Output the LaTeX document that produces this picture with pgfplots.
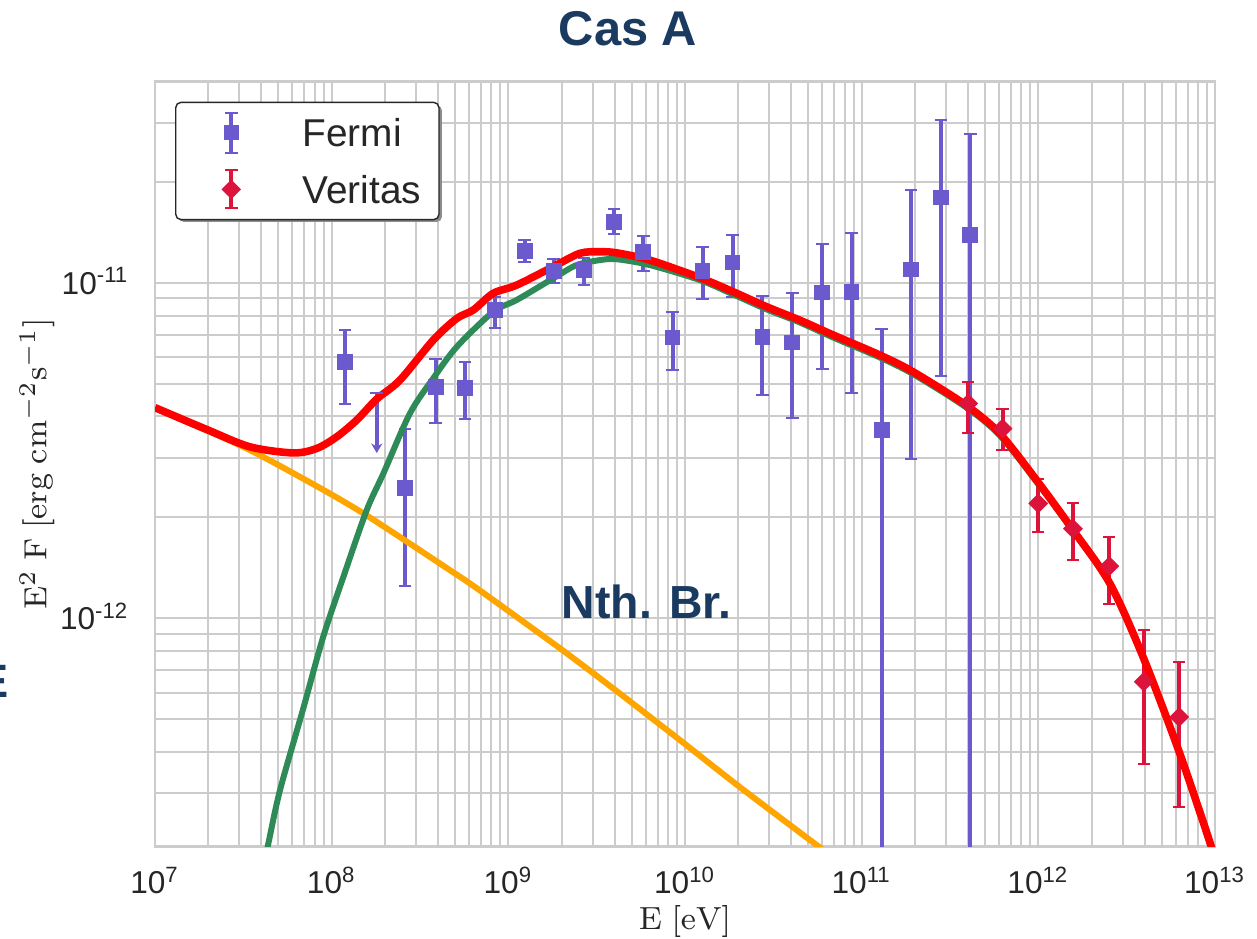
\documentclass[border=0pt]{standalone}
\usepackage[no-math]{fontspec}
\setmainfont{Liberation Sans}
\usepackage{pgfplots}
\usepackage{pgfplotstable}
\pgfplotsset{compat=1.18}
\usetikzlibrary{arrows.meta}

\definecolor{fermi}{HTML}{6A5ACD}
\definecolor{veritas}{HTML}{DC143C}
\definecolor{pion}{HTML}{2E8B57}
\definecolor{brems}{HTML}{FFA500}
\definecolor{total}{HTML}{FF0000}
\definecolor{gridc}{HTML}{CCCCCC}
\definecolor{navy}{RGB}{27,58,96}
\definecolor{txt}{HTML}{262626}

% Fermi-LAT points (E, E^2F, +err, -err)
\pgfplotstableread{
x        y         ep        em
1.19e8   5.81e-12  1.43e-12  1.46e-12
2.60e8   2.45e-12  1.21e-12  1.20e-12
3.89e8   4.90e-12  1.05e-12  1.07e-12
5.68e8   4.87e-12  0.93e-12  0.93e-12
8.40e8   8.31e-12  0.79e-12  0.95e-12
1.24e9   1.246e-11 0.094e-11 0.093e-11
1.81e9   1.088e-11 0.092e-11 0.090e-11
2.68e9   1.094e-11 0.092e-11 0.108e-11
3.96e9   1.524e-11 0.136e-11 0.124e-11
5.80e9   1.24e-11  0.14e-11  0.151e-11
8.51e9   6.89e-12  1.29e-12  1.37e-12
1.258e10 1.088e-11 0.192e-11 0.194e-11
1.86e10  1.151e-11 0.239e-11 0.241e-11
2.74e10  6.91e-12  2.23e-12  2.27e-12
4.04e10  6.64e-12  2.67e-12  2.67e-12
5.98e10  9.38e-12  3.68e-12  3.82e-12
8.77e10  9.42e-12  4.68e-12  4.71e-12
1.30e11  3.64e-12  3.68e-12  3.63e-12
1.90e11  1.099e-11 8.00e-12  8.01e-12
2.81e11  1.80e-11  1.27e-11  1.273e-11
4.11e11  1.39e-11  1.40e-11  1.389e-11
}\fermidata

% VERITAS points
\pgfplotstableread{
x        y         ep        em
4.01e11  4.37e-12  0.71e-12  0.81e-12
6.27e11  3.68e-12  0.52e-12  0.51e-12
9.98e11  2.20e-12  0.41e-12  0.39e-12
1.57e12  1.85e-12  0.36e-12  0.36e-12
2.52e12  1.43e-12  0.32e-12  0.33e-12
3.95e12  6.46e-13  2.79e-13  2.78e-13
6.27e12  5.07e-13  2.34e-13  2.33e-13
}\veritasdata

% non-thermal bremsstrahlung
\pgfplotstableread{
x        y
1e7      4.24e-12
3.03e7   3.28e-12
6.62e7   2.64e-12
1.50e8   2.06e-12
4.68e8   1.39e-12
6.90e8   1.21e-12
1.96e9   8.13e-13
3.91e9   6.18e-13
9.35e9   4.33e-13
2.05e10  3.13e-13
5.79e10  2.07e-13
7.5e10   1.87e-13
}\bremsdata

% pion decay
\pgfplotstableread{
x        y
4.03e7   1.746e-13
4.38e7   2.126e-13
5.10e7   3.07e-13
6.90e7   5.37e-13
8.95e7   8.79e-13
1.164e8  1.327e-12
1.578e8  2.10e-12
1.96e8   2.70e-12
2.77e8   4.08e-12
3.76e8   5.20e-12
5.10e8   6.45e-12
8.21e8   8.21e-12
1.114e9  8.90e-12
1.795e9  1.033e-11
2.435e9  1.132e-11
3.30e9   1.171e-11
4.10e9   1.178e-11
6.32e9   1.132e-11
1.213e10 1.021e-11
1.875e10 9.25e-12
2.895e10 8.35e-12
4.47e10  7.63e-12
6.90e10  6.88e-12
1.265e11 6.00e-12
1.956e11 5.35e-12
3.923e11 4.25e-12
6.05e11  3.51e-12
9.77e11  2.55e-12
1.574e12 1.818e-12
2.539e12 1.262e-12
3.917e12 7.62e-13
6.32e12  3.93e-13
9.55e12  2.065e-13
1.093e13 1.64e-13
}\piondata

% total
\pgfplotstableread{
x        y
1e7      4.25e-12
2.003e7  3.64e-12
3.45e7   3.246e-12
6.06e7   3.113e-12
8.22e7   3.21e-12
1.067e8  3.476e-12
1.385e8  3.90e-12
1.798e8  4.505e-12
2.435e8  5.134e-12
3.76e8   6.76e-12
5.10e8   7.84e-12
6.33e8   8.31e-12
8.21e8   9.32e-12
1.114e9  9.86e-12
1.795e9  1.119e-11
2.54e9   1.227e-11
3.30e9   1.24e-11
4.10e9   1.231e-11
6.32e9   1.171e-11
1.213e10 1.038e-11
1.875e10 9.42e-12
2.895e10 8.50e-12
4.47e10  7.75e-12
6.90e10  7.00e-12
1.265e11 6.10e-12
1.956e11 5.435e-12
3.923e11 4.31e-12
6.05e11  3.557e-12
9.77e11  2.582e-12
1.574e12 1.831e-12
2.539e12 1.27e-12
3.917e12 7.66e-13
6.32e12  3.945e-13
9.55e12  2.076e-13
1.093e13 1.65e-13
}\totaldata

\begin{document}
\begin{tikzpicture}
\begin{axis}[
  at={(0pt,0pt)}, anchor=south west,
  scale only axis, width=265pt, height=191.25pt,
  xmode=log, ymode=log,
  xmin=1e7, xmax=1e13, ymin=2.08e-13, ymax=3.99e-11,
  xtick={1e7,1e8,1e9,1e10,1e11,1e12,1e13},
  xticklabels={10\textsuperscript{7},10\textsuperscript{8},10\textsuperscript{9},10\textsuperscript{10},10\textsuperscript{11},10\textsuperscript{12},10\textsuperscript{13}},
  ytick={1e-12,1e-11},
  yticklabels={10\textsuperscript{-12},10\textsuperscript{-11}},
  minor xtick={2e7,3e7,4e7,5e7,6e7,7e7,8e7,9e7,2e8,3e8,4e8,5e8,6e8,7e8,8e8,9e8,2e9,3e9,4e9,5e9,6e9,7e9,8e9,9e9,2e10,3e10,4e10,5e10,6e10,7e10,8e10,9e10,2e11,3e11,4e11,5e11,6e11,7e11,8e11,9e11,2e12,3e12,4e12,5e12,6e12,7e12,8e12,9e12},
  minor ytick={3e-13,4e-13,5e-13,6e-13,7e-13,8e-13,9e-13,2e-12,3e-12,4e-12,5e-12,6e-12,7e-12,8e-12,9e-12,2e-11,3e-11},
  grid=both,
  major grid style={draw=gridc, line width=0.5pt},
  minor grid style={draw=gridc, line width=0.5pt},
  major tick length=0pt, minor tick length=0pt,
  axis line style={draw=gridc, line width=0.65pt},
  tick label style={font=\fontsize{7.9}{9}\selectfont, text=txt, inner sep=0pt},
  xticklabel style={anchor=base, yshift=-11.65pt},
  yticklabel style={anchor=base east, xshift=-6.25pt, yshift=-2.8pt},
  legend style={
    at={(axis description cs:0.0189,0.9739)}, anchor=north west,
    draw=black!85, line width=0.35pt, rounded corners=1.3pt, fill=white,
    inner xsep=3pt, inner ysep=0.45pt, row sep=0pt, column sep=0pt,
    font=\fontsize{9.7}{11}\selectfont, text=txt,
    nodes={inner sep=0pt, text height=10.6pt, text depth=3.6pt, text width=31.1pt, anchor=west},
  },
  legend cell align=left,
]

\addlegendimage{legend image code/.code={
  \path[draw=none, fill=none] (0pt,-7pt) rectangle (28.7pt,7pt);
  \draw[fermi, line width=1pt, sharp corners] (10.9pt,-5pt) -- (10.9pt,5pt);
  \draw[fermi, line width=0.5pt, sharp corners] (9.3pt,-5pt) -- (12.5pt,-5pt) (9.3pt,5pt) -- (12.5pt,5pt);
  \draw[fermi, sharp corners] plot[mark=square*, mark size=1.75pt] coordinates {(10.9pt,0pt)};
}}
\addlegendentry{Fermi}
\addlegendimage{legend image code/.code={
  \path[draw=none, fill=none] (0pt,-7pt) rectangle (28.7pt,7pt);
  \draw[veritas, line width=1pt, sharp corners] (10.9pt,-4.75pt) -- (10.9pt,4.75pt);
  \draw[veritas, line width=0.5pt, sharp corners] (9.35pt,-4.75pt) -- (12.45pt,-4.75pt) (9.35pt,4.75pt) -- (12.45pt,4.75pt);
  \draw[veritas, sharp corners] plot[mark=square*, mark size=1.55pt, mark options={rotate=45}] coordinates {(10.9pt,0pt)};
}}
\addlegendentry{Veritas}

% Fermi points
\addplot[forget plot, only marks, mark=square*, mark size=1.75pt, color=fermi,
  error bars/.cd, y dir=both, y explicit,
  error bar style={line width=1pt},
  error mark options={rotate=90, line width=0.5pt, mark size=1.6pt}]
  table[x=x, y=y, y error plus=ep, y error minus=em] {\fermidata};
% Fermi upper limit
\addplot[forget plot, color=fermi, line width=1pt, -{Stealth[length=2.4pt, width=2.8pt]}]
  coordinates {(1.80e8,4.70e-12) (1.80e8,3.11e-12)};
\addplot[forget plot, only marks, color=fermi, mark=-, mark size=1.6pt, mark options={line width=0.5pt}]
  coordinates {(1.80e8,4.70e-12)};

% VERITAS points
\addplot[forget plot, only marks, mark=square*, mark size=1.55pt, mark options={rotate=45}, color=veritas,
  error bars/.cd, y dir=both, y explicit,
  error bar style={line width=1pt},
  error mark options={rotate=90, line width=0.5pt, mark size=1.55pt}]
  table[x=x, y=y, y error plus=ep, y error minus=em] {\veritasdata};

% model curves
\addplot[forget plot, brems, line width=1.5pt, smooth] table[x=x, y=y] {\bremsdata};
\addplot[forget plot, pion, line width=1.5pt, smooth] table[x=x, y=y] {\piondata};
\addplot[forget plot, total, line width=1.9pt, smooth] table[x=x, y=y] {\totaldata};

% legend shadow
\fill[black!45, rounded corners=1.3pt] (axis description cs:0.0223,0.8167) rectangle (axis description cs:0.2707,0.9691);
\end{axis}

\node[font=\bfseries\fontsize{12.2}{14}\selectfont, text=navy, anchor=base, inner sep=0pt] at (118.25pt,200.4pt) {Cas A};
\node[font=\bfseries\fontsize{11.6}{14}\selectfont, text=navy, anchor=base, inner sep=0pt] at (122.9pt,57.1pt) {Nth. Br.};
\node[font=\bfseries\fontsize{11.7}{14}\selectfont, text=navy, anchor=base east, inner sep=0pt] at (-36.3pt,37.4pt) {E};
\node[font=\fontsize{8}{10}\selectfont, text=txt, inner sep=0pt] at (132.5pt,-18.6pt) {$\mathrm{E\;[eV]}$};
\node[font=\fontsize{8.1}{10}\selectfont, text=txt, rotate=90, inner sep=0pt] at (-29.5pt,95.7pt) {$\mathrm{E^{2}\;F\;[erg\;cm^{-2}s^{-1}]}$};

\pgfresetboundingbox
\path[use as bounding box] (-38.75pt,-23.075pt) rectangle (275.5pt,211.675pt);
\end{tikzpicture}
\end{document}
